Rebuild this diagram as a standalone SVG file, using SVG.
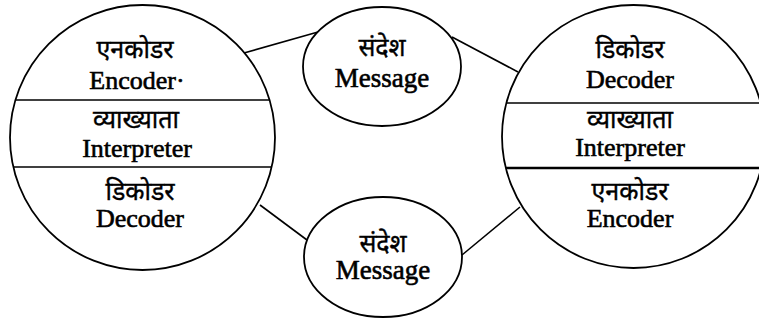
<svg xmlns="http://www.w3.org/2000/svg" width="759" height="320" viewBox="0 0 759 320">
<style>
.shape{fill:#fff;stroke:#000;stroke-width:1.8}
.div{stroke:#000;stroke-width:1.6}
.conn line{stroke:#000;stroke-width:1.6}
.en{font-family:"Liberation Serif","Times New Roman",serif;font-size:26px;fill:#000;stroke:#000;stroke-width:0.6;text-anchor:middle}
.msg{font-size:27px}
.hi{font-family:"Noto Sans Devanagari","Noto Serif Devanagari","Lohit Devanagari","Noto Sans","Liberation Serif",serif;font-size:25px;fill:#000;stroke:#000;stroke-width:0.4;text-anchor:middle}
</style>
<rect width="759" height="320" fill="#fff"/>
<g id="connectors" class="conn">
<line x1="244" y1="53" x2="318" y2="32"/>
<line x1="452" y1="37" x2="518" y2="72"/>
<line x1="260" y1="205" x2="307" y2="240"/>
<line x1="462" y1="255" x2="520" y2="207"/>
</g>
<g id="sender">
<circle class="shape" cx="142.5" cy="137.5" r="132.5"/>
<line class="div" x1="15.4" y1="100" x2="269.6" y2="100"/>
<line class="div" x1="13.3" y1="167" x2="271.7" y2="167"/>
<text class="hi" x="135" y="58">एनकोडर</text>
<text class="en" x="137" y="89">Encoder·</text>
<text class="hi" x="136" y="128">व्याख्याता</text>
<text class="en" x="137" y="157">Interpreter</text>
<text class="hi" x="140" y="200">डिकोडर</text>
<text class="en" x="140" y="227">Decoder</text>
</g>
<g id="receiver">
<circle class="shape" cx="633.5" cy="136.5" r="131.5"/>
<line class="div" x1="506.3" y1="103" x2="759" y2="103"/>
<line class="div" x1="505.8" y1="168" x2="759" y2="168" style="stroke-width:2.4"/>
<text class="hi" x="630" y="58">डिकोडर</text>
<text class="en" x="630" y="88">Decoder</text>
<text class="hi" x="630" y="128">व्याख्याता</text>
<text class="en" x="630" y="156">Interpreter</text>
<text class="hi" x="630" y="200">एनकोडर</text>
<text class="en" x="630" y="227">Encoder</text>
</g>
<g id="message-top">
<ellipse class="shape" cx="382" cy="66.5" rx="79" ry="59.5"/>
<text class="hi" x="382" y="56">संदेश</text>
<text class="en msg" x="382" y="87">Message</text>
</g>
<g id="message-bottom">
<ellipse class="shape" cx="383" cy="257" rx="79" ry="60"/>
<text class="hi" x="383" y="252">संदेश</text>
<text class="en msg" x="383" y="279">Message</text>
</g>
</svg>
